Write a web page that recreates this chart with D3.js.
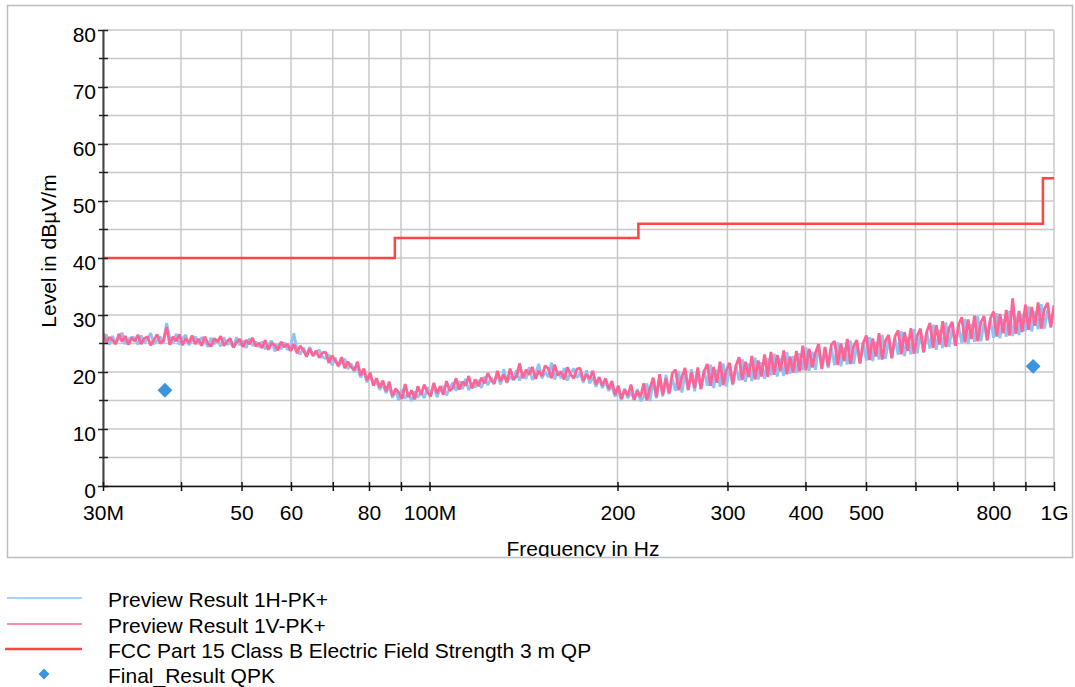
<html>
<head>
  <style>
    body { margin: 0; background: #fff; }
    svg text { font-family: "Liberation Sans", Arial, sans-serif; fill: #000; }
    svg .grid { stroke: #C8C8C8; stroke-width: 1.5px; }
    svg .tick text { font-size: 21px; }
  </style>
</head>
<body>
  <div id="chart"></div>
  <script src="https://cdn.jsdelivr.net/npm/d3@7"></script>
  <script>
// ---- data ----
var sweepStart = 30e6, sweepStop = 1e9;   // preview sweep, log spaced points

var levelH = [
  25.5,26.6,24.8,26.3,25.1,25.8,26.9,24.9,25.7,26.1,
  26.0,24.8,26.4,25.2,25.7,26.8,24.9,25.5,26.2,25.0,
  28.6,26.0,25.1,26.7,24.8,25.9,26.5,24.7,25.6,26.2,
  24.9,26.1,25.4,24.4,26.0,24.9,25.7,24.5,26.1,24.8,
  25.2,24.4,26.1,24.7,25.5,24.2,25.9,24.6,25.3,24.4,
  25.3,24.0,24.8,25.5,23.6,24.9,24.0,25.2,23.9,24.4,
  26.8,23.9,23.1,24.3,23.0,24.4,22.8,23.3,23.9,22.6,
  22.4,23.1,21.2,22.5,20.9,21.9,22.3,20.5,21.5,20.1,
  20.9,19.0,20.2,18.2,19.4,18.0,18.3,16.9,17.8,16.3,
  17.5,15.5,16.7,15.0,17.0,15.4,16.3,14.9,16.6,15.5,
  16.5,15.4,17.3,16.0,17.6,15.6,16.9,17.5,15.9,17.2,
  18.1,16.7,18.4,17.0,18.8,16.8,18.0,17.3,18.6,17.2,
  19.2,17.7,19.0,18.3,19.7,17.8,20.5,18.1,19.2,18.6,
  20.3,18.5,19.9,18.8,20.8,18.6,19.7,21.4,18.9,20.0,
  19.1,21.6,18.7,20.2,18.9,20.7,18.5,19.9,20.6,19.0,
  19.8,18.1,20.3,18.0,19.1,17.4,18.8,17.2,18.3,16.7,
  17.5,15.7,16.8,15.0,17.1,15.4,16.5,15.2,17.0,14.9,
  15.6,18.0,14.9,18.6,15.4,19.2,15.7,19.5,16.1,18.8,
  16.7,20.2,16.4,19.7,16.8,20.5,16.6,19.8,17.0,20.4,
  17.6,21.3,17.2,20.4,17.4,21.5,17.5,20.8,17.7,21.0,
  18.5,22.2,18.3,21.5,18.4,22.5,18.7,21.7,18.8,22.4,
  19.4,23.2,19.2,22.4,19.3,23.5,19.7,22.8,19.8,23.3,
  20.3,24.3,20.2,23.5,20.4,24.5,20.6,23.8,20.7,24.2,
  21.2,25.2,21.0,24.3,21.3,25.5,21.4,24.7,21.6,25.1,
  22.0,26.1,21.9,25.3,22.2,26.5,22.3,25.7,22.5,26.0,
  23.0,27.1,22.8,26.2,23.1,27.5,23.3,26.6,23.4,27.0,
  24.1,28.3,23.9,27.4,24.2,28.7,24.4,27.8,24.6,28.1,
  25.1,29.3,24.9,28.4,25.3,29.8,25.4,28.7,25.5,29.2,
  26.0,30.3,25.9,29.3,26.2,30.7,26.3,29.7,26.5,30.2,
  27.2,31.5,27.1,30.6,27.5,31.9,27.6,30.9,27.8,31.4
];

var levelV = [
  26.9,25.2,26.1,25.6,24.9,26.7,25.3,26.3,24.8,26.0,
  25.4,26.5,24.9,25.9,26.2,24.7,25.6,26.6,25.0,25.5,
  27.9,24.8,26.2,25.4,26.6,24.7,25.9,25.1,26.4,24.9,
  25.8,24.6,26.2,25.0,24.5,25.9,25.3,26.3,24.6,25.4,
  25.9,24.3,25.2,25.8,24.4,25.6,24.9,26.0,24.5,25.1,
  24.2,25.6,23.9,25.1,24.7,23.8,25.3,24.4,24.9,23.7,
  24.9,23.3,24.6,23.8,22.7,24.1,22.9,23.7,22.5,23.4,
  23.5,21.6,22.9,22.0,21.1,22.6,20.7,21.8,20.9,20.3,
  21.8,19.4,20.6,18.5,19.9,17.6,18.9,17.3,18.5,16.6,
  18.3,15.8,17.1,16.4,15.3,17.9,15.6,16.8,15.2,17.5,
  16.0,17.8,16.5,15.7,18.1,16.3,17.5,16.0,18.4,16.7,
  17.2,18.9,16.9,18.3,17.6,19.3,17.1,18.7,17.5,19.0,
  18.0,19.8,18.6,17.9,20.2,18.4,19.5,18.2,20.6,18.7,
  19.2,21.5,18.9,20.4,19.5,20.9,18.8,20.2,19.3,21.1,
  20.6,18.9,21.3,19.4,20.1,18.7,20.8,19.6,18.9,20.5,
  20.7,18.5,19.6,18.8,20.2,17.8,19.1,17.6,18.9,17.0,
  18.4,16.0,17.6,15.3,16.9,15.8,17.8,15.1,16.7,15.6,
  18.0,15.0,17.2,19.0,15.6,19.6,16.0,18.9,16.3,19.8,
  20.4,16.8,19.1,20.7,16.9,19.9,17.2,20.8,17.0,20.1,
  21.4,17.6,20.9,18.1,21.8,17.7,20.3,21.6,17.9,21.1,
  22.6,18.6,21.8,19.1,22.8,18.7,22.0,19.2,23.1,19.1,
  23.5,19.5,23.0,20.2,23.8,19.6,22.7,19.9,23.7,20.1,
  24.6,20.3,24.1,20.8,23.4,24.9,20.5,24.4,21.0,24.8,
  25.4,21.2,25.0,21.9,25.8,21.4,24.5,25.6,21.5,25.1,
  26.4,22.1,25.9,22.7,26.8,22.2,25.5,26.5,22.4,26.2,
  27.3,23.1,27.0,23.7,27.7,23.2,26.4,27.6,23.5,27.1,
  28.6,24.2,28.2,24.8,28.9,24.4,27.7,28.8,24.6,28.3,
  29.6,25.2,29.2,25.8,29.9,25.4,28.7,29.8,25.6,29.4,
  30.6,26.2,30.2,26.8,30.9,26.4,32.9,26.7,30.7,27.0,
  31.8,27.4,31.4,28.1,32.2,27.6,31.1,32.1,27.9,31.7
];

// FCC Part 15 Class B limit, 3 m
var limitFreq  = [30e6, 88e6, 88e6, 216e6, 216e6, 960e6, 960e6, 1000e6];
var limitLevel = [40, 40, 43.5, 43.5, 46, 46, 54, 54];

// final quasi-peak results
var finalFreq  = [37.7e6, 926e6];
var finalLevel = [16.8, 21.0];

// axis ticks
var xTicks  = [30e6, 40e6, 50e6, 60e6, 70e6, 80e6, 90e6, 100e6, 200e6, 300e6,
               400e6, 500e6, 600e6, 700e6, 800e6, 900e6, 1000e6];
var xLabels = ["30M", "", "50", "60", "", "80", "", "100M", "200", "300",
               "400", "500", "", "", "800", "", "1G"];
var yMajor = [0, 10, 20, 30, 40, 50, 60, 70, 80];
var yMinor = [5, 15, 25, 35, 45, 55, 65, 75];

var legendNames = ["Preview Result 1H-PK+", "Preview Result 1V-PK+",
                   "FCC Part 15 Class B Electric Field Strength 3 m QP", "Final_Result QPK"];

(function () {
  var W = 1075, H = 687;
  var plot = { left: 103, right: 1054, top: 30, bottom: 486 };

  var colH = "#8EC4F4", colV = "#FF6496", colLimit = "#FF4646", colFinal = "#3B95DC";

  var svg = d3.select("#chart").append("svg")
      .attr("width", W)
      .attr("height", H);

  var xScale = d3.scaleLog().domain([sweepStart, sweepStop]).range([plot.left, plot.right]);
  var yScale = d3.scaleLinear().domain([0, 80]).range([plot.bottom, plot.top]);

  // frequency of each preview point
  var nPts = levelV.length;
  var sweepFreq = d3.range(nPts).map(function (i) {
    return sweepStart * Math.pow(sweepStop / sweepStart, i / (nPts - 1));
  });

  // grid
  svg.append("g").selectAll("line")
    .data(xTicks).enter().append("line")
      .classed("grid", true)
      .attr("x1", function (d) { return xScale(d); })
      .attr("x2", function (d) { return xScale(d); })
      .attr("y1", plot.top)
      .attr("y2", plot.bottom);

  svg.append("g").selectAll("line")
    .data(yMajor.concat(yMinor)).enter().append("line")
      .classed("grid", true)
      .attr("x1", plot.left)
      .attr("x2", plot.right)
      .attr("y1", function (d) { return yScale(d); })
      .attr("y2", function (d) { return yScale(d); });

  // clip for traces
  svg.append("clipPath").attr("id", "plotclip")
    .append("rect")
      .attr("x", plot.left).attr("y", plot.top)
      .attr("width", plot.right - plot.left).attr("height", plot.bottom - plot.top);

  var trace = d3.line()
    .x(function (d, i) { return xScale(sweepFreq[i]); })
    .y(function (d) { return yScale(d); });

  var traces = svg.append("g").attr("clip-path", "url(#plotclip)");

  traces.append("path")
      .attr("d", trace(levelH))
      .style("fill", "none")
      .style("stroke", colH)
      .style("stroke-width", "2.8px")
      .style("stroke-linejoin", "bevel");

  traces.append("path")
      .attr("d", trace(levelV))
      .style("fill", "none")
      .style("stroke", colV)
      .style("stroke-width", "2.8px")
      .style("stroke-linejoin", "bevel");

  var limitLine = d3.line()
    .x(function (d, i) { return xScale(limitFreq[i]); })
    .y(function (d) { return yScale(d); });

  traces.append("path")
      .attr("d", limitLine(limitLevel))
      .style("fill", "none")
      .style("stroke", colLimit)
      .style("stroke-width", "2.5px");

  var diamond = d3.symbol().type(d3.symbolDiamond2);

  svg.append("g").selectAll("path")
    .data(finalLevel).enter().append("path")
      .attr("d", diamond.size(140)())
      .attr("transform", function (d, i) {
        return "translate(" + xScale(finalFreq[i]) + "," + yScale(d) + ")";
      })
      .style("fill", colFinal);

  // y axis
  var yAxis = d3.axisLeft(yScale)
      .tickValues(yMajor)
      .tickSizeInner(5)
      .tickSizeOuter(0);

  var ya = svg.append("g")
      .attr("transform", "translate(" + plot.left + ",0)")
      .call(yAxis);
  ya.select(".domain").style("stroke", "#444").style("stroke-width", "2px");
  ya.selectAll(".tick line").attr("x1", 5).style("stroke", "#222").style("stroke-width", "1.5px");
  ya.selectAll(".tick text").attr("x", -7).attr("y", 11).attr("dy", 0);

  svg.append("g").selectAll("line")
    .data(yMinor).enter().append("line")
      .attr("x1", plot.left - 4)
      .attr("x2", plot.left + 5)
      .attr("y1", function (d) { return yScale(d); })
      .attr("y2", function (d) { return yScale(d); })
      .style("stroke", "#222")
      .style("stroke-width", "1.5px");

  // x axis
  var xAxis = d3.axisBottom(xScale)
      .tickValues(xTicks)
      .tickFormat(function (d, i) { return xLabels[i]; })
      .tickSizeInner(5)
      .tickSizeOuter(0);

  var xa = svg.append("g")
      .attr("transform", "translate(0," + plot.bottom + ")")
      .call(xAxis);
  xa.select(".domain").style("stroke", "#111").style("stroke-width", "1.5px");
  xa.selectAll(".tick line").attr("y1", -4).style("stroke", "#111").style("stroke-width", "1.5px");
  xa.selectAll(".tick text").attr("y", 34).attr("dy", 0);

  // axis titles
  svg.append("text")
      .attr("transform", "translate(56,251) rotate(-90)")
      .style("text-anchor", "middle")
      .style("font-size", "21px")
      .text("Level in dBµV/m");

  svg.append("text")
      .attr("x", 583)
      .attr("y", 556)
      .style("text-anchor", "middle")
      .style("font-size", "21px")
      .text("Frequency in Hz");

  // cut the title at the frame edge, then the frame
  svg.append("rect")
      .attr("x", 0).attr("y", 558)
      .attr("width", W).attr("height", 20)
      .style("fill", "#fff");

  svg.append("rect")
      .attr("x", 7.5).attr("y", 5.5)
      .attr("width", 1065).attr("height", 552)
      .style("fill", "none")
      .style("stroke", "#BDBDBD")
      .style("stroke-width", "1.5px");

  // legend
  var legY = [598, 624, 649, 674];
  var legend = svg.append("g");

  legend.append("line")
      .attr("x1", 7).attr("x2", 82).attr("y1", legY[0]).attr("y2", legY[0])
      .style("stroke", colH).style("stroke-width", "1.5px");
  legend.append("line")
      .attr("x1", 7).attr("x2", 82).attr("y1", legY[1]).attr("y2", legY[1])
      .style("stroke", colV).style("stroke-width", "1.5px");
  legend.append("line")
      .attr("x1", 5).attr("x2", 82).attr("y1", legY[2]).attr("y2", legY[2])
      .style("stroke", colLimit).style("stroke-width", "2.5px");
  legend.append("path")
      .attr("d", d3.symbol().type(d3.symbolDiamond2).size(75)())
      .attr("transform", "translate(44," + legY[3] + ")")
      .style("fill", colFinal);

  legend.selectAll("text")
    .data(legendNames).enter().append("text")
      .attr("x", 108)
      .attr("y", function (d, i) { return legY[i] + 9; })
      .style("font-size", "21px")
      .text(function (d) { return d; });
})();
  </script>
</body>
</html>
